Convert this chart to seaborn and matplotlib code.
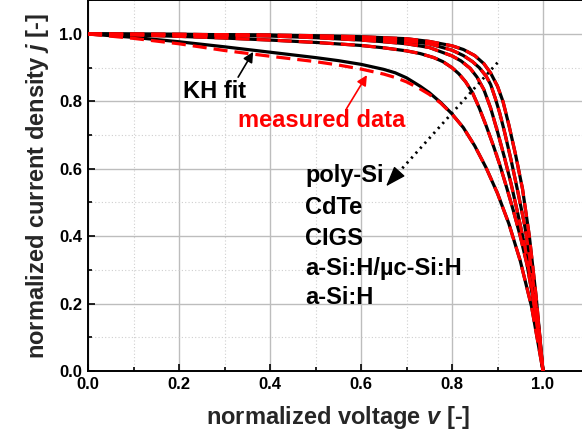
import matplotlib
matplotlib.use("Agg")
import matplotlib.pyplot as plt
import seaborn as sns
import numpy as np
from matplotlib.ticker import MultipleLocator

# Normalized J-V curves: KH fit (solid) and measured data (dashed)
v_polysi = [0.0, 0.1, 0.2, 0.3, 0.4, 0.5, 0.6, 0.65, 0.7, 0.75, 0.8, 0.825, 0.85,
            0.87, 0.885, 0.9, 0.912, 0.925, 0.94, 0.955, 0.97, 0.985, 1.0]
j_polysi = [1.0, 0.9995, 0.999, 0.998, 0.997, 0.995, 0.992, 0.989, 0.986, 0.978,
            0.965, 0.954, 0.936, 0.912, 0.884, 0.845, 0.8, 0.73, 0.64, 0.54,
            0.4, 0.22, 0.0]

v_cdte = [0.0, 0.2, 0.4, 0.6, 0.7, 0.75, 0.8, 0.825, 0.845, 0.86, 0.875, 0.885,
          0.895, 0.905, 0.915, 0.93, 0.945, 0.96, 0.975, 0.99, 1.0]
j_cdte = [1.0, 0.999, 0.996, 0.988, 0.979, 0.971, 0.952, 0.936, 0.918, 0.9, 0.875,
          0.85, 0.81, 0.765, 0.712, 0.625, 0.53, 0.43, 0.3, 0.14, 0.0]

v_cigs = [0.0, 0.2, 0.4, 0.5, 0.6, 0.65, 0.7, 0.75, 0.8, 0.82, 0.84, 0.855, 0.87,
          0.885, 0.9, 0.915, 0.93, 0.945, 0.96, 0.975, 0.99, 1.0]
j_cigs = [1.0, 0.998, 0.994, 0.989, 0.982, 0.977, 0.971, 0.96, 0.935, 0.92, 0.898,
          0.872, 0.835, 0.78, 0.71, 0.635, 0.555, 0.465, 0.37, 0.25, 0.11, 0.0]

v_micro = [0.0, 0.1, 0.2, 0.3, 0.4, 0.5, 0.6, 0.65, 0.7, 0.73, 0.76, 0.78, 0.8,
           0.815, 0.83, 0.845, 0.86, 0.875, 0.89, 0.905, 0.92, 0.935, 0.95,
           0.965, 0.98, 0.99, 1.0]
j_micro = [1.0, 0.997, 0.993, 0.988, 0.982, 0.975, 0.966, 0.959, 0.95, 0.942, 0.93,
           0.918, 0.9, 0.882, 0.858, 0.826, 0.78, 0.728, 0.672, 0.612, 0.545,
           0.475, 0.4, 0.315, 0.2, 0.105, 0.0]

v_asi = [0.0, 0.1, 0.2, 0.3, 0.4, 0.5, 0.55, 0.6, 0.65, 0.675, 0.7, 0.73, 0.75,
         0.775, 0.8, 0.825, 0.85, 0.875, 0.9, 0.925, 0.95, 0.975, 1.0]
j_asi_fit = [1.0, 0.99, 0.977, 0.962, 0.946, 0.93, 0.921, 0.91, 0.895, 0.885, 0.87,
             0.845, 0.826, 0.797, 0.763, 0.722, 0.668, 0.603, 0.527, 0.437, 0.327,
             0.19, 0.0]
j_asi_meas = [1.0, 0.987, 0.971, 0.951, 0.934, 0.918, 0.908, 0.896, 0.881, 0.871,
              0.858, 0.837, 0.821, 0.795, 0.762, 0.722, 0.668, 0.603, 0.527, 0.437,
              0.327, 0.19, 0.0]

cells = ["poly-Si", "CdTe", "CIGS", "a-Si:H/µc-Si:H", "a-Si:H"]

fit_curves = [(v_polysi, j_polysi), (v_cdte, j_cdte), (v_cigs, j_cigs),
              (v_micro, j_micro), (v_asi, j_asi_fit)]
meas_curves = [(v_polysi, j_polysi), (v_cdte, j_cdte), (v_cigs, j_cigs),
               (v_micro, j_micro), (v_asi, j_asi_meas)]

sns.set_theme(style="ticks")
plt.rcParams["font.family"] = ["Liberation Sans", "DejaVu Sans"]
plt.rcParams["font.weight"] = "bold"
plt.rcParams["mathtext.fontset"] = "custom"
plt.rcParams["mathtext.rm"] = "Liberation Sans:bold"
plt.rcParams["mathtext.it"] = "Liberation Sans:italic:bold"

fig = plt.figure(figsize=(5.82, 4.36), dpi=100)
ax = fig.add_axes([88 / 582, 65 / 436, 500.5 / 582, 370.7 / 436])

for vv, jj in fit_curves:
    sns.lineplot(x=vv, y=jj, ax=ax, color="black", lw=2.3, sort=False,
                 estimator=None, zorder=3)
for vv, jj in meas_curves:
    sns.lineplot(x=vv, y=jj, ax=ax, color="#ff0000", lw=2.3, sort=False,
                 estimator=None, zorder=4, linestyle=(0, (4.4, 2.2)))

ax.set_xlim(0, 1.1)
ax.set_ylim(0, 1.1)
ax.xaxis.set_minor_locator(MultipleLocator(0.1))
ax.yaxis.set_minor_locator(MultipleLocator(0.1))
ticks = np.arange(0, 1.01, 0.2)
ax.set_xticks(ticks)
ax.set_yticks(ticks)
ax.set_xticklabels([f"{t:.1f}" for t in ticks])
ax.set_yticklabels([f"{t:.1f}" for t in ticks])

ax.grid(which="major", color="#bdbdbd", lw=1.0, ls="-")
ax.grid(which="minor", color="#cfcfcf", lw=0.8, ls=(0, (1, 2)))
ax.set_axisbelow(True)

ax.tick_params(which="both", direction="in", colors="black", labelsize=12,
               width=1.2, pad=4)
ax.tick_params(which="major", length=5)
ax.tick_params(which="minor", length=3)
for lab in ax.get_xticklabels() + ax.get_yticklabels():
    lab.set_fontweight("bold")
for s in ax.spines.values():
    s.set_color("black")
    s.set_linewidth(1.4)

ax.set_xlabel(r"normalized voltage $\mathit{v}$ [-]", fontsize=17,
              fontweight="bold", labelpad=9)
ax.set_ylabel(r"normalized current density $\mathit{j}$ [-]", fontsize=17,
              fontweight="bold", labelpad=6)

# annotations
ax.annotate("", xy=(0.363, 0.947), xytext=(0.33, 0.872),
            arrowprops=dict(arrowstyle="-|>", color="black", lw=1.2,
                            mutation_scale=15, shrinkA=0, shrinkB=0))
ax.text(0.209, 0.81, "KH fit", fontsize=17, fontweight="bold",
        color="black", va="baseline", ha="left")

ax.annotate("", xy=(0.613, 0.878), xytext=(0.568, 0.778),
            arrowprops=dict(arrowstyle="-|>", color="#ff0000", lw=1.2,
                            mutation_scale=15, shrinkA=0, shrinkB=0))
ax.text(0.33, 0.724, "measured data", fontsize=17, fontweight="bold",
        color="#ff0000", va="baseline", ha="left")

# dotted trend arrow: dotted shaft plus a solid head
tail = (0.9, 0.915)
tip = (0.655, 0.548)
neck = (tip[0] + 0.09 * (tail[0] - tip[0]), tip[1] + 0.09 * (tail[1] - tip[1]))
ax.plot([tail[0], neck[0]], [tail[1], neck[1]], color="black", lw=2.0,
        ls=(0, (0.8, 1.6)), zorder=5)
ax.annotate("", xy=tip, xytext=neck,
            arrowprops=dict(arrowstyle="-|>,head_length=0.45,head_width=0.16",
                            color="black", lw=1.0, mutation_scale=28,
                            shrinkA=0, shrinkB=0), zorder=5)

label_base = [0.561, 0.466, 0.374, 0.286, 0.2]
for name, yy in zip(cells, label_base):
    ax.text(0.477, yy, name, fontsize=17, fontweight="bold", color="black",
            va="baseline", ha="left")

fig.savefig("out.png", dpi=100)
